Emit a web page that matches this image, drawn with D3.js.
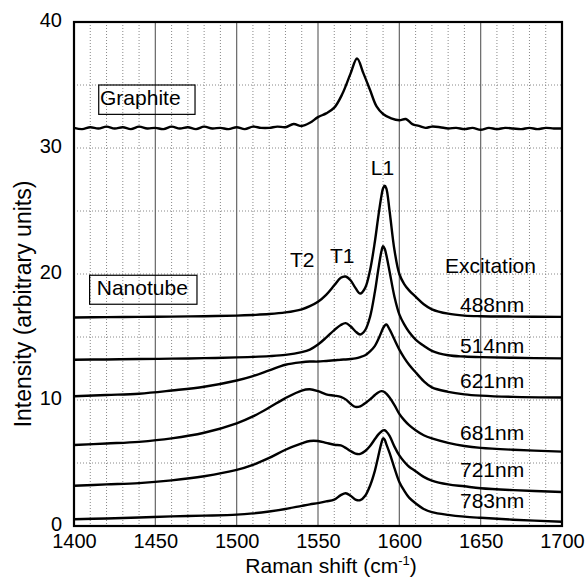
<!DOCTYPE html>
<html><head><meta charset="utf-8">
<script src="https://cdn.jsdelivr.net/npm/d3@7"></script>
<style>
body{margin:0;background:#fff}
text{font-family:"Liberation Sans",Arial,Helvetica,sans-serif;fill:#000}
</style>
</head><body>
<svg id="chart" width="587" height="578"></svg>
<script>
// ---- data ----
const wavenumbers = [1400,1420,1440,1460,1480,1500,1510,1520,1530,1540,1545,1550,1555,1560,1564,1567,1570,1573,1576,1579,1582,1585,1587,1589,1590,1591,1592,1594,1597,1600,1603,1606,1610,1615,1620,1630,1640,1650,1670,1700];
const nm488 = [16.55,16.58,16.6,16.62,16.65,16.7,16.75,16.82,16.95,17.2,17.45,17.8,18.35,19.1,19.7,19.8,19.5,18.9,18.45,18.9,20.3,22.6,24.5,26.2,26.8,27.0,26.8,25.0,21.9,20.0,19.2,18.7,18.2,17.6,17.2,16.85,16.7,16.65,16.62,16.6];
const nm514 = [13.2,13.22,13.25,13.28,13.32,13.38,13.42,13.48,13.58,13.8,14.0,14.4,14.95,15.55,15.95,16.1,15.85,15.45,15.2,15.55,16.6,18.6,20.3,21.8,22.2,22.0,21.5,20.2,18.2,16.8,16.0,15.4,14.8,14.3,13.9,13.55,13.45,13.4,13.35,13.3];
const nm621 = [10.3,10.4,10.5,10.75,11.05,11.55,11.9,12.35,12.8,13.0,13.05,13.05,13.1,13.15,13.2,13.22,13.25,13.3,13.4,13.55,13.85,14.3,14.8,15.4,15.7,15.9,16.0,15.6,14.8,14.0,13.35,12.8,12.2,11.5,11.0,10.65,10.45,10.35,10.25,10.2];
const nm681 = [6.43,6.55,6.68,6.95,7.4,8.15,8.7,9.4,10.15,10.75,10.85,10.7,10.45,10.35,10.25,10.05,9.7,9.45,9.5,9.75,10.05,10.4,10.6,10.7,10.68,10.62,10.5,10.2,9.6,8.9,8.4,8.0,7.6,7.2,6.95,6.6,6.35,6.2,6.05,5.9];
const nm721 = [3.2,3.3,3.4,3.62,3.95,4.45,4.85,5.4,6.05,6.55,6.75,6.75,6.6,6.45,6.4,6.2,5.95,5.75,5.72,5.95,6.35,6.9,7.25,7.5,7.58,7.6,7.5,7.15,6.3,5.6,5.1,4.7,4.35,3.9,3.6,3.3,3.15,3.0,2.85,2.7];
const nm783 = [0.53,0.6,0.68,0.76,0.82,0.9,1.0,1.15,1.35,1.6,1.72,1.82,1.95,2.1,2.45,2.6,2.4,2.1,2.05,2.4,3.2,4.4,5.5,6.6,6.96,6.85,6.5,5.8,4.6,3.5,2.8,2.25,1.8,1.35,1.1,0.88,0.74,0.65,0.5,0.34];
const excitationLabels = ["488nm","514nm","621nm","681nm","721nm","783nm"];
const graphiteX = [1400,1405,1410,1415,1420,1425,1430,1435,1440,1445,1450,1455,1460,1465,1470,1475,1480,1485,1490,1495,1500,1505,1510,1515,1520,1525,1530,1535,1540,1545,1550,1555,1560,1565,1570,1574,1578,1582,1586,1590,1595,1600,1604,1608,1612,1616,1620,1625,1630,1635,1640,1645,1650,1655,1660,1665,1670,1675,1680,1685,1690,1695,1700];
const graphiteY = [31.6,31.5,31.65,31.55,31.7,31.55,31.65,31.5,31.7,31.55,31.6,31.5,31.7,31.55,31.65,31.5,31.7,31.55,31.6,31.5,31.65,31.5,31.7,31.6,31.6,31.7,31.65,31.9,31.75,32.0,32.45,32.75,33.2,34.3,35.9,37.1,35.9,34.6,33.3,32.7,32.35,32.2,32.3,31.9,31.75,31.6,31.7,31.65,31.55,31.6,31.5,31.6,31.45,31.6,31.5,31.6,31.55,31.5,31.6,31.5,31.6,31.55,31.55];
const xTicks = [1400,1450,1500,1550,1600,1650,1700];
const yTicks = [0,10,20,30,40];

// ---- layout ----
const svg = d3.select("#chart");
const L = 74, R = 562, T = 22, B = 526;
const x = d3.scaleLinear().domain([1400,1700]).range([L,R]);
const y = d3.scaleLinear().domain([0,40]).range([B,T]);

// grid: dotted minor lines
const minorX = d3.range(1410,1700,10).filter(v => v % 50 !== 0);
const minorY = d3.range(5,40,5);
const g = svg.append("g");
g.selectAll("line.mx").data(minorX).enter().append("line")
  .attr("x1", d=>x(d)).attr("x2", d=>x(d)).attr("y1", T).attr("y2", B)
  .attr("stroke","#888").attr("stroke-width",1).attr("stroke-dasharray","1,2");
g.selectAll("line.my").data(minorY).enter().append("line")
  .attr("y1", d=>y(d)).attr("y2", d=>y(d)).attr("x1", L).attr("x2", R)
  .attr("stroke","#888").attr("stroke-width",1).attr("stroke-dasharray","1,2");
// major vertical lines (solid gray)
g.selectAll("line.MX").data(xTicks.slice(1,-1)).enter().append("line")
  .attr("x1", d=>x(d)).attr("x2", d=>x(d)).attr("y1", T).attr("y2", B)
  .attr("stroke","#666").attr("stroke-width",1.2);

// axes labels
const xAxis = d3.axisBottom(x).tickValues(xTicks).tickSize(0).tickPadding(8).tickFormat(d3.format("d"));
const xa = svg.append("g").attr("transform",`translate(0,${B})`).call(xAxis);
xa.select(".domain").remove();
xa.selectAll("text").attr("font-size",20).attr("font-family","Liberation Sans, Arial, sans-serif").attr("fill","#000");
const yAxis = d3.axisLeft(y).tickValues(yTicks).tickSize(0).tickPadding(12);
const ya = svg.append("g").attr("transform",`translate(${L},0)`).call(yAxis);
ya.select(".domain").remove();
ya.selectAll("text").attr("font-size",20).attr("dy","0.22em").attr("font-family","Liberation Sans, Arial, sans-serif").attr("fill","#000");

// frame
svg.append("rect").attr("x",L).attr("y",T).attr("width",R-L).attr("height",B-T)
  .attr("fill","none").attr("stroke","#000").attr("stroke-width",2.2);

// curves
const line = d3.line().x(d=>x(d[0])).y(d=>y(d[1])).curve(d3.curveCatmullRom.alpha(0.5));
const seriesValues = [nm488,nm514,nm621,nm681,nm721,nm783];
seriesValues.forEach(vals => {
  svg.append("path").datum(wavenumbers.map((w,i)=>[w,vals[i]]))
    .attr("d",line).attr("fill","none").attr("stroke","#000").attr("stroke-width",2.4)
    .attr("stroke-linejoin","round");
});
svg.append("path").datum(graphiteX.map((w,i)=>[w,graphiteY[i]]))
  .attr("d",line).attr("fill","none").attr("stroke","#000").attr("stroke-width",2.4)
  .attr("stroke-linejoin","round");

// labels
const fs = 21;
function txt(xv, yv, s, anchor){
  return svg.append("text").attr("x",x(xv)).attr("y",y(yv)).attr("font-size",fs)
    .attr("text-anchor",anchor||"start").text(s);
}
const exY = [17.0,13.7,10.93,6.83,3.91,1.40];
excitationLabels.forEach((s,i)=>txt(1637.3, exY[i], s));
txt(1628, 20.06, "Excitation");
txt(1582.4, 27.86, "L1");
txt(1557.4, 20.85, "T1");
txt(1532.8, 20.58, "T2");

// boxed labels
function boxLabel(x0,x1,y0,y1,tx,ty,s){
  svg.append("rect").attr("x",x(x0)).attr("y",y(y0)).attr("width",x(x1)-x(x0)).attr("height",y(y1)-y(y0))
    .attr("fill","none").attr("stroke","#000").attr("stroke-width",1.2);
  txt(tx,ty,s);
}
boxLabel(1415.2,1474.4,35.0,32.67,1416,33.4,"Graphite");
boxLabel(1409.6,1475.6,19.9,17.6,1414,18.3,"Nanotube");

// axis titles
const xt = svg.append("text").attr("x",331).attr("y",573).attr("font-size",fs).attr("text-anchor","middle");
xt.append("tspan").text("Raman shift (cm");
xt.append("tspan").attr("font-size",13).attr("dy",-8).text("-1");
xt.append("tspan").attr("dy",8).text(")");
svg.append("text").attr("transform","translate(31,304) rotate(-90)").attr("font-size",23)
  .attr("text-anchor","middle").text("Intensity (arbitrary units)");
</script>
</body></html>
